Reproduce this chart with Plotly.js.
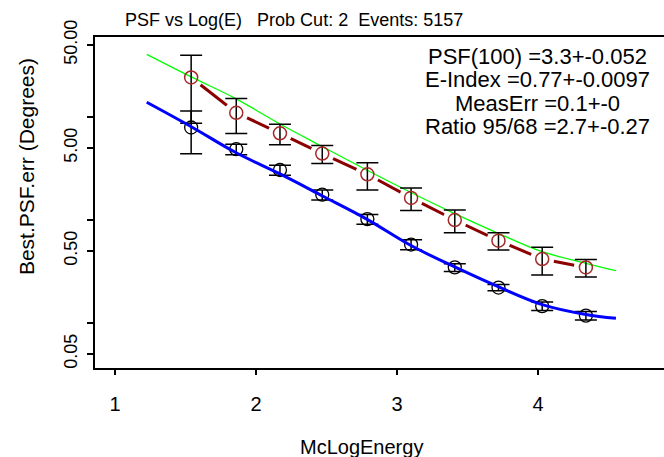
<!DOCTYPE html>
<html>
<head>
<meta charset="utf-8">
<script src="https://cdn.plot.ly/plotly-3.0.1.min.js"></script>
<style>html,body{margin:0;padding:0;background:#fff;}#chart{width:664px;height:457px;}</style>
</head>
<body>
<div id="chart"></div>
<script>
// Energy bin centres (McLogEnergy)
const energyBins = [1.54, 1.86, 2.17, 2.47, 2.79, 3.10, 3.41, 3.72, 4.03, 4.34];
// 95% containment PSF (red points) and errors
const psf95 = [24.2, 11.0, 6.95, 4.42, 2.78, 1.64, 1.00, 0.63, 0.418, 0.346];
const psf95Err = [15.5, 4.1, 1.57, 0.88, 0.82, 0.40, 0.25, 0.12, 0.125, 0.067];
// 68% containment PSF (black points) and errors
const psf68 = [7.91, 4.87, 3.06, 1.76, 1.02, 0.578, 0.347, 0.221, 0.146, 0.118];
const psf68Err = [3.5, 0.57, 0.34, 0.20, 0.11, 0.065, 0.03, 0.015, 0.014, 0.011];
// Fitted curves
const fitX = [1.225, 1.544, 1.856, 2.170, 2.472, 2.785, 3.099, 3.406, 3.718, 4.030, 4.340, 4.553];
const fit95 = [40.6, 24.4, 15.1, 8.55, 5.15, 3.06, 1.85, 1.16, 0.743, 0.492, 0.380, 0.322];
const fit68 = [13.9, 8.0, 4.52, 2.80, 1.71, 1.02, 0.565, 0.352, 0.225, 0.151, 0.121, 0.111];
// Axis ticks
const xTicks = [1, 2, 3, 4];
const yTickVals = [0.05, 0.1, 0.5, 1, 5, 10, 50];
const yTickText = ['0.05', '', '0.50', '', '5.00', '', '50.00'];
// Texts
const titleText = 'PSF vs Log(E)\u00a0\u00a0\u00a0Prob Cut: 2\u00a0\u00a0Events: 5157';
const statLines = ['PSF(100) =3.3+-0.052', 'E-Index =0.77+-0.0097', 'MeasErr =0.1+-0', 'Ratio 95/68 =2.7+-0.27'];

const FONT = 'Liberation Sans, Arial, sans-serif';

const traces = [
  {x: energyBins, y: psf95, mode: 'lines', line: {color: '#8b0000', width: 3}, hoverinfo: 'skip'},
  {x: energyBins, y: psf95, mode: 'markers', marker: {color: '#ffffff', size: 24, line: {width: 0}}, hoverinfo: 'skip'},
  {x: fitX, y: fit95, mode: 'lines', line: {color: '#00ff00', width: 1.3, shape: 'spline'}},
  {x: energyBins, y: psf68, mode: 'markers',
   marker: {symbol: 'circle-open', color: '#000000', size: 13, line: {width: 1.3}},
   error_y: {type: 'data', array: psf68Err, visible: true, color: '#000000', thickness: 1.5, width: 11}},
  {x: energyBins, y: psf95, mode: 'markers',
   marker: {symbol: 'circle-open', color: '#a52a2a', size: 13, line: {width: 1.5}},
   error_y: {type: 'data', array: psf95Err, visible: true, color: '#000000', thickness: 1.5, width: 11}},
  {x: fitX, y: fit68, mode: 'lines', line: {color: '#0000ff', width: 3, shape: 'spline'}}
];

const statY = [0.9405, 0.8701, 0.7997, 0.729];
const annotations = statLines.map((t, i) => ({
  text: t, xref: 'paper', yref: 'paper', x: 0.777, y: statY[i],
  xanchor: 'center', yanchor: 'middle', showarrow: false,
  font: {family: FONT, size: 22, color: '#000'}
}));
annotations.push({text: 'McLogEnergy', xref: 'paper', yref: 'paper', x: 0.469, y: -0.2387,
  xanchor: 'center', yanchor: 'middle', showarrow: false, font: {family: FONT, size: 20, color: '#000'}});
annotations.push({text: 'Best.PSF.err (Degrees)', xref: 'paper', yref: 'paper', x: -0.1213, y: 0.61,
  xanchor: 'center', yanchor: 'middle', textangle: -90, showarrow: false, font: {family: FONT, size: 21, color: '#000'}});

const layout = {
  width: 664, height: 457,
  margin: {l: 95, r: 0, t: 37, b: 89},
  paper_bgcolor: '#ffffff', plot_bgcolor: '#ffffff',
  showlegend: false,
  font: {family: FONT, color: '#000'},
  title: {text: titleText, xref: 'container', yref: 'container', x: 0.443, y: 0.956,
          xanchor: 'center', yanchor: 'middle', font: {family: FONT, size: 18, color: '#000'}},
  xaxis: {range: [0.858, 4.894], tickvals: xTicks, ticks: 'outside', ticklen: 5, tickwidth: 1.5,
          tickcolor: '#000', showline: true, linecolor: '#000', linewidth: 2, mirror: true,
          showgrid: false, zeroline: false, tickfont: {family: FONT, size: 20, color: '#000'},
          ticklabelstandoff: 12},
  yaxis: {type: 'log', range: [-1.437, 1.777], tickvals: yTickVals, ticktext: yTickText,
          tickangle: -90, ticks: 'outside', ticklen: 6, tickwidth: 1.5, tickcolor: '#000',
          showline: true, linecolor: '#000', linewidth: 2, mirror: false,
          showgrid: false, zeroline: false, tickfont: {family: FONT, size: 18, color: '#000'},
          ticklabelstandoff: 3},
  annotations: annotations
};

Plotly.newPlot('chart', traces, layout, {displayModeBar: false, staticPlot: true});
</script>
</body>
</html>
